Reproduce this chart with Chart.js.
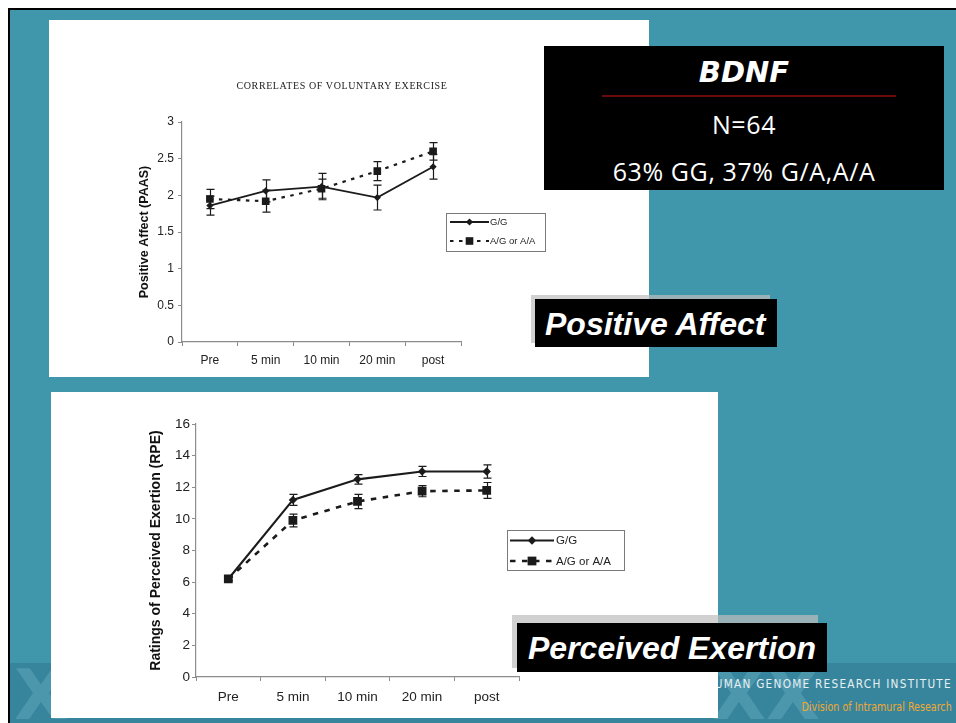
<!DOCTYPE html>
<html>
<head>
<meta charset="utf-8">
<title>BDNF – Positive Affect and Perceived Exertion</title>
<script src="https://cdn.jsdelivr.net/npm/chart.js@4.4.1/dist/chart.umd.min.js"></script>
<style>
  html, body { margin: 0; padding: 0; background: #fff; }
  #slide { position: relative; width: 956px; height: 723px; overflow: hidden; background: #fff;
           font-family: "Liberation Sans", Arial, sans-serif; }
  .abs { position: absolute; }
  #teal { left: 8px; top: 8px; width: 960px; height: 720px; background: #4096aa;
          border-left: 2px solid #000; border-top: 2px solid #000; }
  #band { left: 10px; top: 663px; width: 960px; height: 70px; background: #37859d; }
  .xmark { font: bold 70px "DejaVu Sans", sans-serif; color: rgba(130, 195, 212, 0.3); line-height: 70px; }
  .panel { background: #fff; }
  #p1 { left: 49px; top: 20px; width: 600px; height: 357px; }
  #p2 { left: 51px; top: 392px; width: 667px; height: 326px; }
  canvas.chart { position: absolute; }
  #c1 { left: 49px; top: 20px; }
  #c2 { left: 51px; top: 392px; }
  #title1 { left: 192px; top: 80px; width: 300px; text-align: center; line-height: 12px;
            font: 10px "Liberation Serif", "Times New Roman", serif; color: #222; letter-spacing: 0.6px; }
  #inst { right: 4px; top: 676px; white-space: nowrap; line-height: 16px;
          font: 13px "Liberation Sans Narrow", "DejaVu Sans Condensed", sans-serif;
          letter-spacing: 1.4px; color: #e8f0f3; transform: scaleX(0.9); transform-origin: right center; }
  #dir { right: 4px; top: 699px; white-space: nowrap; line-height: 16px;
         font: 12.5px "Liberation Sans Narrow", "DejaVu Sans Condensed", sans-serif;
         color: #f0a832; transform: scaleX(0.85); transform-origin: right center; }
  #bdnf { left: 544px; top: 46px; width: 400px; height: 144px; background: #000; color: #fff; }
  #bdnf .head { position: absolute; left: 0; width: 100%; top: 9px; line-height: 32px; text-align: center;
                font: italic bold 29px "DejaVu Sans", sans-serif; }
  #bdnf .rule { position: absolute; left: 58px; top: 49px; width: 294px; height: 2px; background: #6b0a0a; }
  #bdnf .line { position: absolute; left: 0; width: 100%; text-align: center; line-height: 30px;
                font: 25px "Open Sans", "Noto Sans", sans-serif; letter-spacing: 0.6px; }
  .shadow { background: rgba(190, 190, 190, 0.7); }
  .tag { background: #000; color: #fff; font: italic bold 32px "Liberation Sans", Arial, sans-serif;
         white-space: nowrap; box-sizing: border-box; }
</style>
</head>
<body>
<div id="slide">
  <div id="teal" class="abs"></div>
  <div id="band" class="abs"></div>
  <div class="abs xmark" style="left:14px;top:660px;">X</div>
  <div class="abs xmark" style="left:712px;top:660px;">XX</div>
  <div id="inst" class="abs">NATIONAL HUMAN GENOME RESEARCH INSTITUTE</div>
  <div id="dir" class="abs">Division of Intramural Research</div>

  <div id="p1" class="abs panel"></div>
  <div id="p2" class="abs panel"></div>
  <canvas id="c1" class="chart" width="600" height="357"></canvas>
  <canvas id="c2" class="chart" width="667" height="326"></canvas>
  <div id="title1" class="abs">CORRELATES OF VOLUNTARY EXERCISE</div>

  <div id="bdnf" class="abs">
    <div class="head">BDNF</div>
    <div class="rule"></div>
    <div class="line" style="top:61px;">N=64</div>
    <div class="line" style="top:108px;">63% GG, 37% G/A,A/A</div>
  </div>

  <div class="abs shadow" style="left:531px;top:295px;width:239px;height:48px;"></div>
  <div class="abs tag" style="left:535px;top:299px;width:242px;height:48px;line-height:50px;padding-left:10px;">Positive Affect</div>

  <div class="abs shadow" style="left:512px;top:615px;width:306px;height:53px;"></div>
  <div class="abs tag" style="left:517px;top:623px;width:310px;height:49px;line-height:50px;padding-left:11px;">Perceived Exertion</div>
</div>

<script>
// Measurement stages on the x axis
const stages = ['Pre', '5 min', '10 min', '20 min', 'post'];
const seriesNames = ['G/G', 'A/G or A/A'];

// Positive affect (PAAS): means and standard errors
const affectGG    = [1.86, 2.06, 2.12, 1.97, 2.39];
const affectGGErr = [0.13, 0.15, 0.18, 0.17, 0.17];
const affectAG    = [1.95, 1.92, 2.09, 2.33, 2.60];
const affectAGErr = [0.13, 0.15, 0.13, 0.13, 0.12];

// Ratings of perceived exertion (RPE): means and standard errors
const rpeGG    = [6.2, 11.2, 12.5, 13.0, 13.0];
const rpeGGErr = [0.10, 0.35, 0.30, 0.32, 0.42];
const rpeAG    = [6.2, 9.9, 11.1, 11.75, 11.8];
const rpeAGErr = [0.10, 0.40, 0.45, 0.35, 0.50];

// Value-axis ranges
const affectAxis = { min: 0, max: 3, step: 0.5 };
const rpeAxis    = { min: 0, max: 16, step: 2 };

const INK = '#1b1b1b';
const AXIS = '#8c8c8c';
const FONT = '"Liberation Sans", Arial, sans-serif';

// Vertical error bars with caps, placed through the value scale
const errorBars = {
  id: 'errorBars',
  afterDatasetsDraw(chart, args, opts) {
    const ctx = chart.ctx;
    const ys = chart.scales.y;
    chart.data.datasets.forEach((ds, i) => {
      if (!ds.errors) return;
      const meta = chart.getDatasetMeta(i);
      ctx.save();
      ctx.strokeStyle = opts.color;
      ctx.lineWidth = opts.width;
      meta.data.forEach((pt, j) => {
        const v = ds.data[j], e = ds.errors[j];
        const top = ys.getPixelForValue(v + e);
        const bot = ys.getPixelForValue(v - e);
        const x = Math.round(pt.x) + 0.5;
        ctx.beginPath();
        ctx.moveTo(x, top); ctx.lineTo(x, bot);
        ctx.moveTo(x - opts.cap, top); ctx.lineTo(x + opts.cap, top);
        ctx.moveTo(x - opts.cap, bot); ctx.lineTo(x + opts.cap, bot);
        ctx.stroke();
      });
      ctx.restore();
    });
  }
};

// Boxed legend with line sample and marker, built from the dataset styles
const boxLegend = {
  id: 'boxLegend',
  afterDraw(chart, args, o) {
    const ctx = chart.ctx;
    ctx.save();
    ctx.strokeStyle = '#7a7a7a';
    ctx.lineWidth = 1;
    ctx.strokeRect(o.x + 0.5, o.y + 0.5, o.w, o.h);
    chart.data.datasets.forEach((ds, i) => {
      const cy = o.y + o.rows[i];
      ctx.strokeStyle = ds.borderColor;
      ctx.lineWidth = ds.borderWidth;
      ctx.setLineDash(ds.borderDash || []);
      ctx.beginPath();
      ctx.moveTo(o.x + o.line[0], cy);
      ctx.lineTo(o.x + o.line[1], cy);
      ctx.stroke();
      ctx.setLineDash([]);
      ctx.fillStyle = ds.backgroundColor;
      ctx.strokeStyle = ds.borderColor;
      Chart.helpers.drawPoint(ctx, {
        pointStyle: ds.pointStyle, radius: ds.pointRadius, rotation: 0, borderWidth: 0
      }, o.x + (o.line[0] + o.line[1]) / 2, cy);
      ctx.fillStyle = '#222';
      ctx.font = o.font + 'px ' + FONT;
      ctx.textAlign = 'left';
      ctx.textBaseline = 'middle';
      ctx.fillText(ds.label, o.x + o.textX, cy + 0.5);
    });
    ctx.restore();
  }
};

function datasets(gg, ggErr, ag, agErr, st) {
  return [
    { label: seriesNames[0], data: gg, errors: ggErr, borderColor: INK, backgroundColor: INK,
      borderWidth: st.solid, pointStyle: 'rectRot', pointRadius: st.diamond, pointBorderWidth: 0,
      tension: 0, fill: false },
    { label: seriesNames[1], data: ag, errors: agErr, borderColor: INK, backgroundColor: INK,
      borderWidth: st.dashed, borderDash: st.dash, pointStyle: 'rect', pointRadius: st.square,
      pointBorderWidth: 0, tension: 0, fill: false }
  ];
}

function makeChart(canvas, cfg) {
  return new Chart(canvas, {
    type: 'line',
    data: { labels: stages, datasets: datasets(cfg.gg, cfg.ggErr, cfg.ag, cfg.agErr, cfg.style) },
    plugins: [errorBars, boxLegend],
    options: {
      responsive: false,
      animation: false,
      events: [],
      layout: { padding: cfg.pad },
      plugins: {
        legend: { display: false },
        tooltip: { enabled: false },
        errorBars: { color: INK, width: 1.2, cap: 4 },
        boxLegend: cfg.legend
      },
      scales: {
        x: {
          type: 'category',
          offset: true,
          grid: { offset: true, drawOnChartArea: false, drawTicks: true, tickLength: cfg.tick, color: AXIS },
          border: { display: true, color: AXIS, width: 1.2 },
          ticks: { color: '#222', font: { family: FONT, size: cfg.tickFont }, padding: cfg.xPad,
                   maxRotation: 0, autoSkip: false },
          afterFit(s) { s.height = cfg.xHeight; }
        },
        y: {
          min: cfg.axis.min, max: cfg.axis.max,
          grid: { drawOnChartArea: false, drawTicks: true, tickLength: cfg.tick, color: AXIS },
          border: { display: true, color: AXIS, width: 1.2 },
          ticks: { stepSize: cfg.axis.step, color: '#222', font: { family: FONT, size: cfg.tickFont },
                   padding: cfg.yPad, callback: v => String(v) },
          title: { display: true, text: cfg.yTitle, color: '#111',
                   font: { family: FONT, size: cfg.titleFont, weight: 'bold' },
                   padding: { top: cfg.titleOffset, bottom: 0 } },
          afterFit(s) { s.width = cfg.yWidth; }
        }
      }
    }
  });
}

makeChart(document.getElementById('c1'), {
  gg: affectGG, ggErr: affectGGErr, ag: affectAG, agErr: affectAGErr,
  axis: affectAxis,
  yTitle: 'Positive Affect (PAAS)',
  pad: { left: 0, top: 102, right: 188, bottom: 0 },
  yWidth: 133, xHeight: 35, tick: 4, tickFont: 12, xPad: 7, yPad: 4,
  titleFont: 12.5, titleOffset: 88,
  style: { solid: 1.8, dashed: 2.2, dash: [3.5, 5.5], diamond: 3.6, square: 5.4 },
  legend: { x: 397, y: 193, w: 99, h: 38, rows: [9, 28], line: [4, 43], textX: 44, font: 9.5 }
});

makeChart(document.getElementById('c2'), {
  gg: rpeGG, ggErr: rpeGGErr, ag: rpeAG, agErr: rpeAGErr,
  axis: rpeAxis,
  yTitle: 'Ratings of Perceived Exertion (RPE)',
  pad: { left: 0, top: 32, right: 199, bottom: 0 },
  yWidth: 145, xHeight: 41, tick: 4, tickFont: 13.5, xPad: 8, yPad: 2,
  titleFont: 14, titleOffset: 97,
  style: { solid: 2.1, dashed: 2.6, dash: [5.5, 6.5], diamond: 4.2, square: 6.2 },
  legend: { x: 456, y: 138, w: 117, h: 40, rows: [10.5, 31], line: [3, 47], textX: 49, font: 11.5 }
});
</script>
</body>
</html>
